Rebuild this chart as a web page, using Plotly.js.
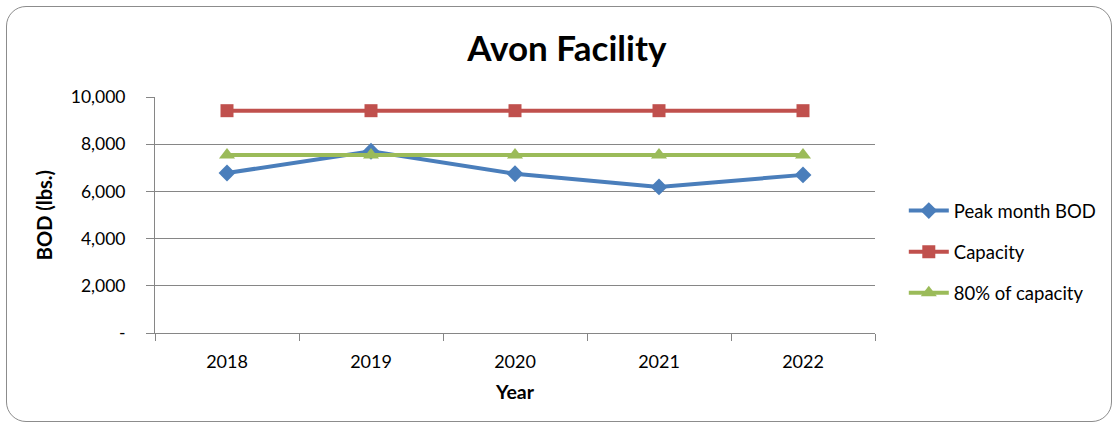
<!DOCTYPE html>
<html>
<head>
<meta charset="utf-8">
<script src="https://cdn.plot.ly/plotly-3.0.1.min.js"></script>
<style>
  html, body { margin: 0; padding: 0; background: #fff; }
  #wrap { position: relative; width: 1119px; height: 428px; }
  #chart { width: 1119px; height: 428px; }
  #frame { position: absolute; left: 6px; top: 6px; width: 1104px; height: 414px;
           border: 1px solid #8c8c8c; border-radius: 20px; pointer-events: none; }
</style>
</head>
<body>
<div id="wrap">
  <div id="chart"></div>
  <div id="frame"></div>
</div>
<script>
const years = ["2018", "2019", "2020", "2021", "2022"];
const peakMonthBOD = [6780, 7700, 6750, 6190, 6700];
const capacity = [9420, 9420, 9420, 9420, 9420];
const eightyPct = [7540, 7540, 7540, 7540, 7540];
const yTickVals = [0, 2000, 4000, 6000, 8000, 10000];
const yTickText = ["-", "2,000", "4,000", "6,000", "8,000", "10,000"];

const FONT = "Lato, 'Open Sans', sans-serif";

const traces = [
  { x: years, y: peakMonthBOD, name: "Peak month BOD", type: "scatter", mode: "lines+markers", legendgroup: "a",
    line: { color: "#4a7ebb", width: 4 }, marker: { symbol: "diamond", size: 13, color: "#4a7ebb" } },
  { x: years, y: capacity, name: "Capacity", type: "scatter", mode: "lines+markers", legendgroup: "b",
    line: { color: "#c0504d", width: 4 }, marker: { symbol: "square", size: 13, color: "#c0504d" } },
  { x: years, y: eightyPct, name: "80% of capacity", type: "scatter", mode: "lines+markers", legendgroup: "c",
    line: { color: "#9bbb59", width: 4 }, marker: { symbol: "triangle-up", size: 14, color: "#9bbb59" } }
];

const layout = {
  width: 1119, height: 428,
  margin: { l: 155, r: 244, t: 97, b: 95 },
  paper_bgcolor: "rgba(0,0,0,0)", plot_bgcolor: "#fff",
  font: { family: FONT, size: 17, color: "#000" },
  title: { text: "<b>Avon Facility</b>", font: { family: FONT, size: 35, color: "#000" },
           x: 0.572, xref: "paper", xanchor: "center", y: 0.885, yref: "container", yanchor: "middle" },
  showlegend: true,
  legend: { x: 1.04, xanchor: "left", y: 0.343, yanchor: "middle", font: { family: FONT, size: 18.5 },
            tracegroupgap: 14, itemwidth: 40, bgcolor: "rgba(0,0,0,0)" },
  xaxis: {
    type: "category", range: [-0.5, 4.5], tickson: "boundaries", ticks: "outside", ticklen: 7, tickcolor: "#868686",
    showline: true, linecolor: "#868686", linewidth: 1, showgrid: false, zeroline: false,
    tickfont: { family: FONT, size: 18 }, ticklabelstandoff: 12,
    title: { text: "<b>Year</b>", font: { family: FONT, size: 19.5 }, standoff: 14 },
    fixedrange: true
  },
  yaxis: {
    range: [0, 10000], tickvals: yTickVals, ticktext: yTickText,
    ticks: "outside", ticklen: 8, tickcolor: "#868686",
    showline: true, linecolor: "#868686", linewidth: 1,
    showgrid: true, gridcolor: "#868686", gridwidth: 1, zeroline: false,
    tickfont: { family: FONT, size: 17.5 }, ticklabelstandoff: 17,
    title: { text: "<b>BOD (lbs.)</b>", font: { family: FONT, size: 20 }, standoff: 12 },
    fixedrange: true
  }
};

Plotly.newPlot("chart", traces, layout, { displayModeBar: false, staticPlot: true });
</script>
</body>
</html>
